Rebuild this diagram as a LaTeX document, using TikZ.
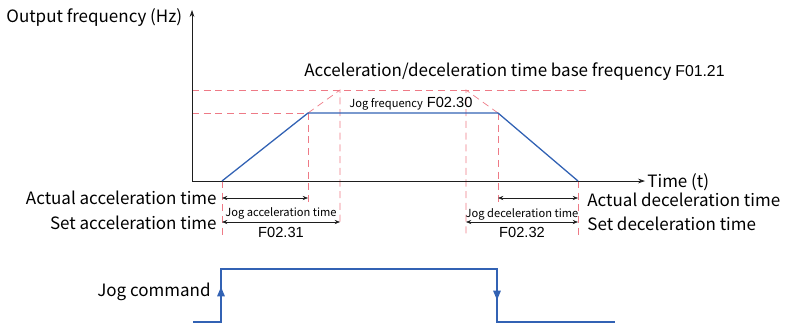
\documentclass[tikz,border=0pt]{standalone}
\usepackage{fontspec}
\setmainfont{Noto Sans CJK SC}
\newfontfamily\codefont{Liberation Sans}
\usetikzlibrary{arrows.meta}
\definecolor{curveb}{HTML}{3262B4}
\definecolor{guider}{HTML}{EE7A86}
\definecolor{axisk}{HTML}{1E1E1E}

\begin{document}
\begin{tikzpicture}[x=0.03cm, y=-0.03cm, font=\fontsize{14.5}{16}\selectfont,
  curve/.style={curveb, line width=1.1pt},
  guide/.style={guider, line width=0.6pt, dash pattern=on 6pt off 4pt},
  span/.style={axisk, line width=0.5pt, {Stealth[length=4.5pt,width=3.5pt]}-{Stealth[length=4.5pt,width=3.5pt]}},
  small/.style={font=\fontsize{9.5}{11}\selectfont},
  code/.style={font=\codefont\fontsize{12.5}{14}\selectfont}]
\useasboundingbox (0,0) rectangle (787,325);

% ---- frequency curve ----
\coordinate (o)  at (192,181);
\coordinate (top) at (192,10);
\coordinate (tend) at (645,181);
\coordinate (base) at (192,90);
\coordinate (basee) at (590,90);
\coordinate (jogf) at (192,113);
\coordinate (a0) at (222,181);
\coordinate (a1) at (308,113);
\coordinate (a2) at (340,90);
\coordinate (d1) at (498,113);
\coordinate (d2) at (466,90);
\coordinate (d0) at (578,181);
\coordinate (lowS) at (0,238);
\coordinate (lowT) at (0,225);
\coordinate (lowA) at (0,204);
\coordinate (rowA) at (0,198);
\coordinate (rowS) at (0,222);

\draw[guide] (base) -- (basee);
\draw[guide] (jogf) -- (a1);
\draw[guide] (a1) -- (a2) -- (a2 |- lowT);
\draw[guide] (d1) -- (d2) -- (d2 |- lowS);
\draw[guide] (a1) -- (a1 |- lowA);
\draw[guide] (d1) -- (d1 |- lowA);
\draw[guide] (a0) -- (a0 |- lowS);
\draw[guide] (d0) -- (d0 |- lowS);

\draw[axisk, line width=0.6pt, -{Stealth[length=6pt,width=4pt]}] (o) -- (top);
\draw[axisk, line width=0.6pt, -{Stealth[length=6pt,width=4pt]}] (o) -- (tend);
\draw[curve] (a0) -- (a1) -- (d1) -- (d0);

\node[anchor=west, inner sep=1pt] (ylab) at (5,18) {Output frequency (Hz)};
\node[anchor=west, inner sep=1pt] (tlab) at (646,182) {Time (t)};
\node[anchor=south west, inner sep=1pt] (blab) at (303,82)
  {Acceleration/deceleration time base frequency {\codefont\fontsize{13.5}{15}\selectfont F01.21}};
\node[anchor=south west, inner sep=1pt] (jlab) at (348,112)
  {{\fontsize{9.5}{11}\selectfont Jog frequency} {\codefont\fontsize{12.5}{14}\selectfont F02.30}};

% ---- time spans ----
\draw[span] (a0 |- rowA) -- (a1 |- rowA);
\draw[span] (a0 |- rowS) -- (a2 |- rowS);
\draw[span] (d1 |- rowA) -- (d0 |- rowA);
\draw[span] (d2 |- rowS) -- (d0 |- rowS);

\node[anchor=east, inner sep=1pt] (aact) at (218,198) {Actual acceleration time};
\node[anchor=east, inner sep=1pt] (aset) at (218,223) {Set acceleration time};
\node[small] (ajog) at (281,213) {Jog acceleration time};
\node[code] (acode) at (281,232) {F02.31};
\node[anchor=west, inner sep=1pt] (dact) at (586,200) {Actual deceleration time};
\node[anchor=west, inner sep=1pt] (dset) at (586,224) {Set deceleration time};
\node[small] (djog) at (522,214) {Jog deceleration time};
\node[code] (dcode) at (522,232) {F02.32};

% ---- jog command ----
\coordinate (j0) at (193,322);
\coordinate (j1) at (221,322);
\coordinate (j2) at (221,269);
\coordinate (j3) at (497,269);
\coordinate (j4) at (497,322);
\coordinate (j5) at (615,322);
\coordinate (jup) at (221,287);
\coordinate (jdn) at (497,300);
\draw[curveb, line width=0.9pt] (j0) -- (j1) -- (j2) -- (j3) -- (j4) -- (j5);
\draw[curveb, line width=0.9pt, -{Triangle[length=8pt,width=6.5pt]}] (j1) -- (jup);
\draw[curveb, line width=0.9pt, -{Triangle[length=8pt,width=6.5pt]}] (j3) -- (jdn);
\node[anchor=east, inner sep=1pt] (jcmd) at (212,292) {Jog command};
\end{tikzpicture}
\end{document}
